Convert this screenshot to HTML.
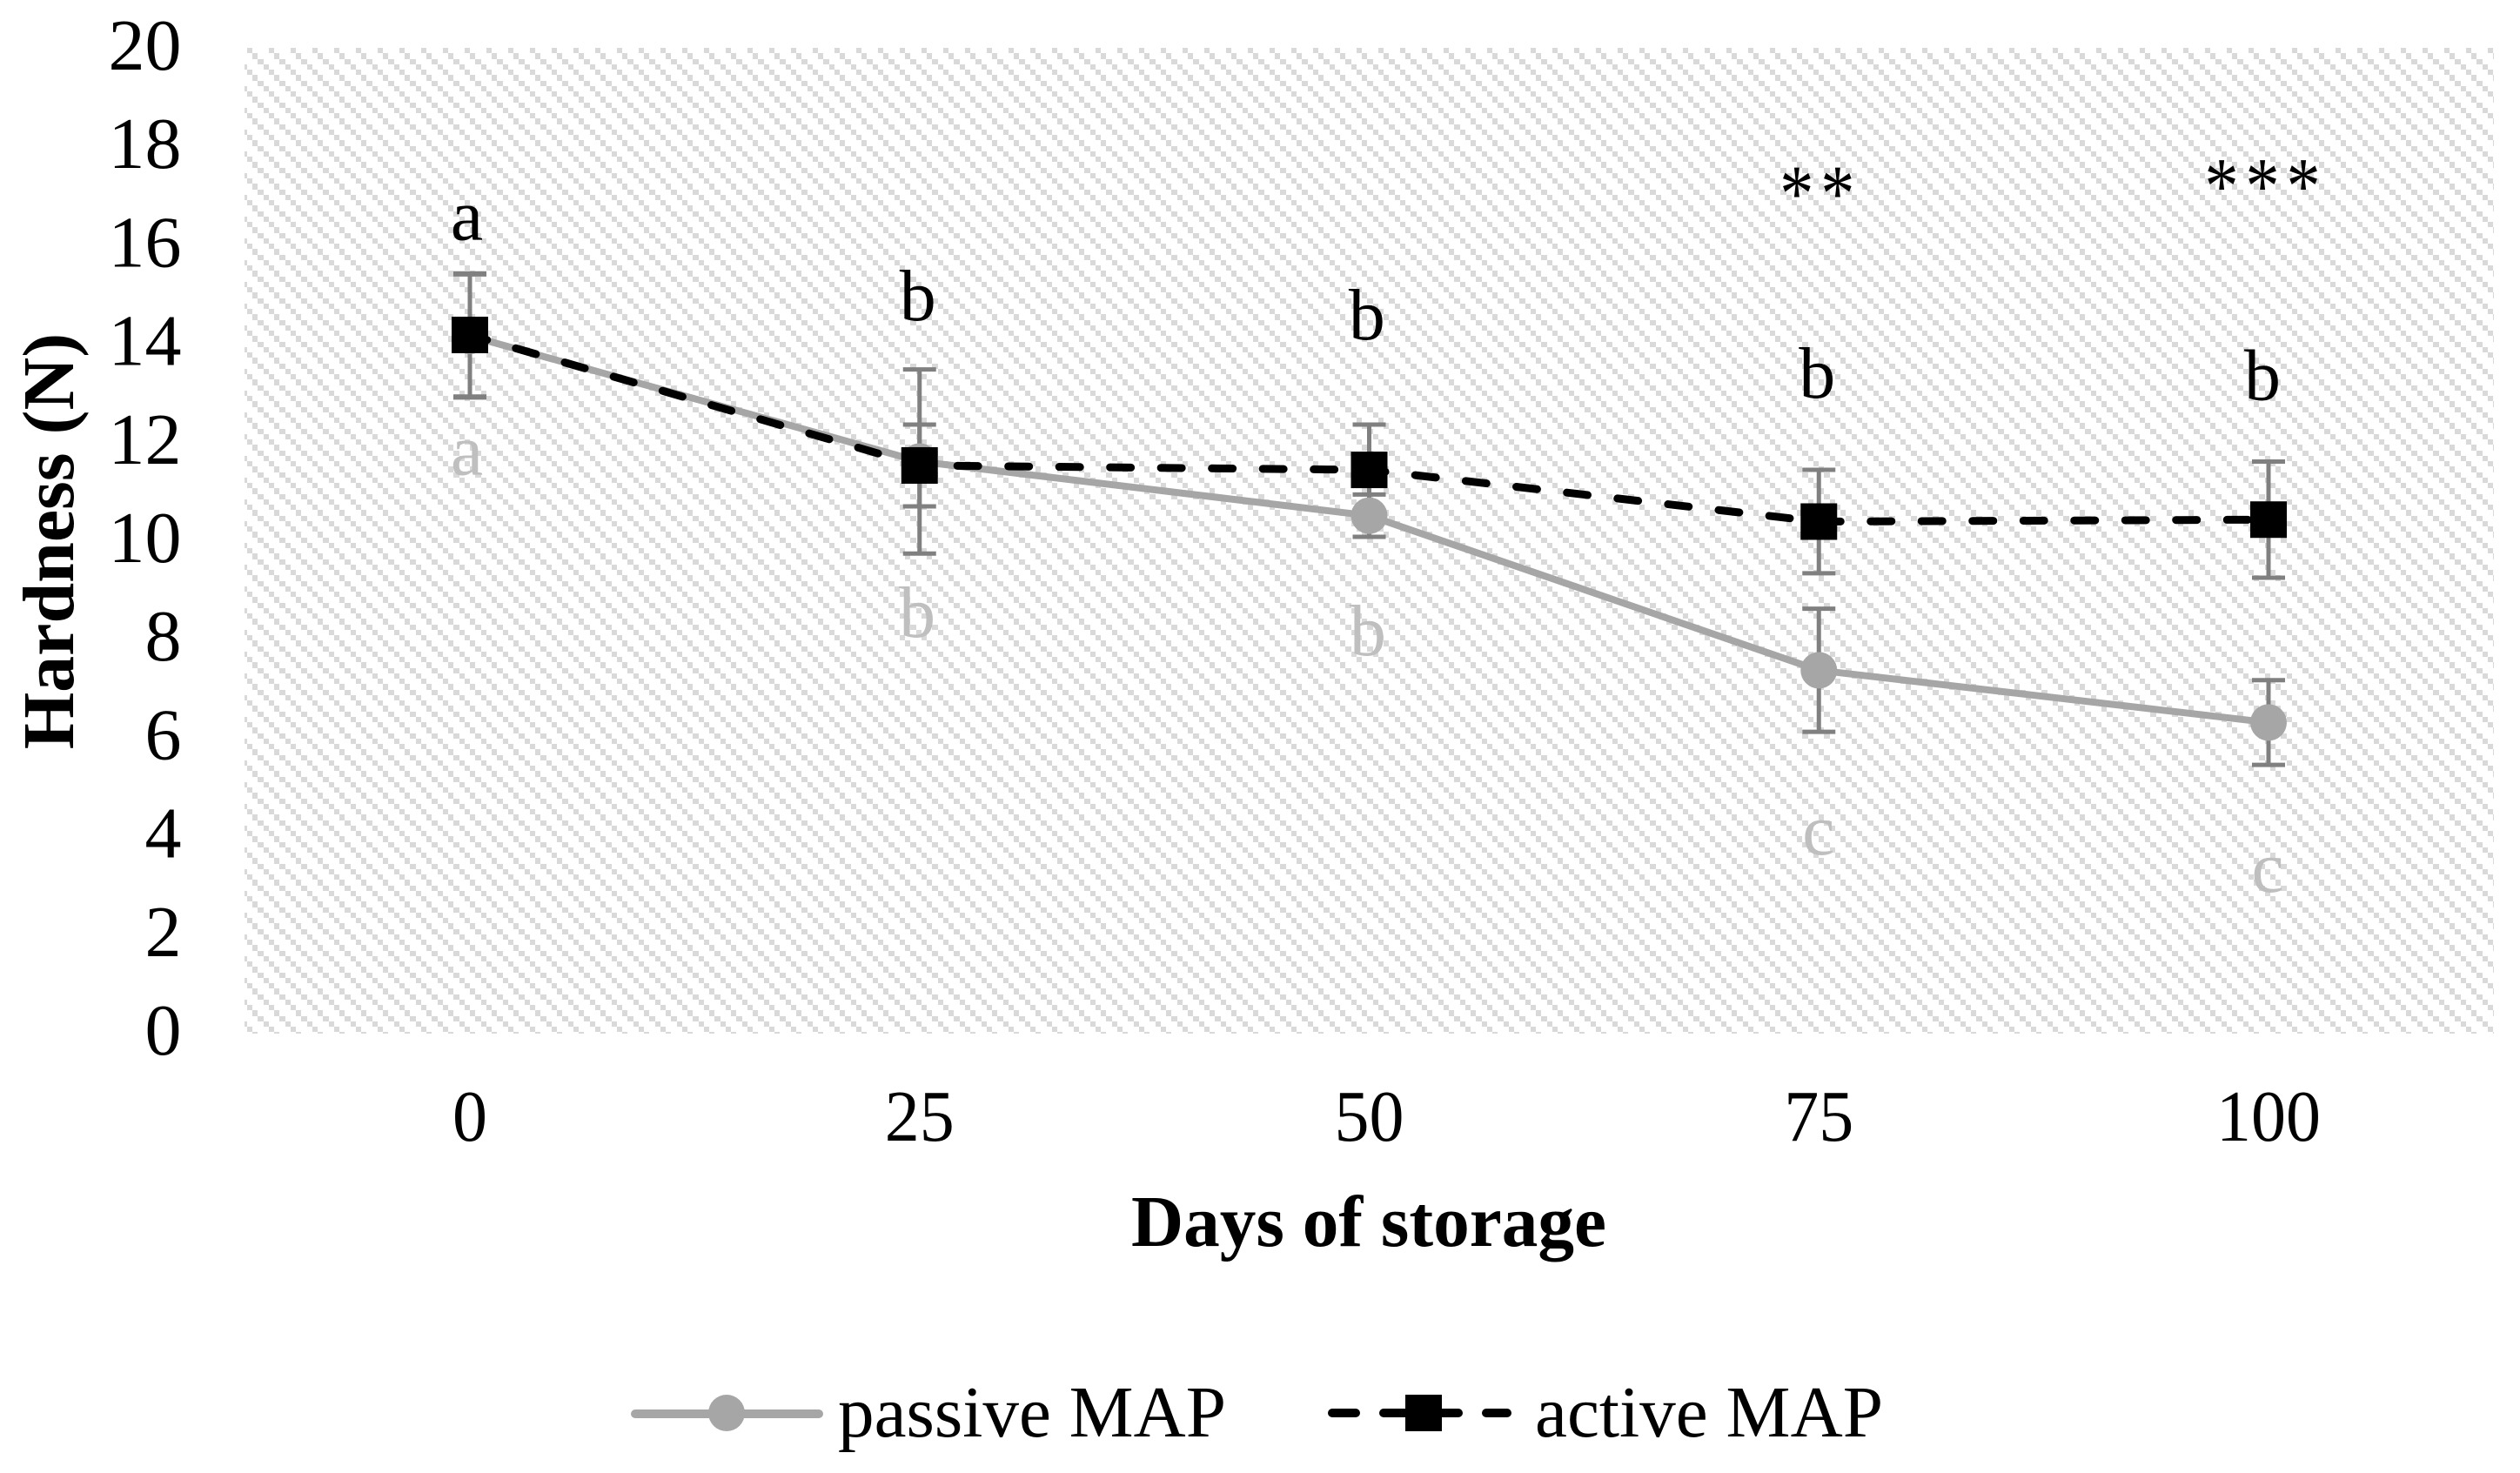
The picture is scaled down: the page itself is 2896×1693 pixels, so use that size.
<!DOCTYPE html>
<html lang="en">
<head>
<meta charset="utf-8">
<title>Hardness during storage</title>
<style>
  html, body { margin: 0; padding: 0; background: #fff; }
  svg { display: block; }
  text { font-family: "Liberation Serif", serif; fill: #000; }
</style>
</head>
<body>
<svg id="chart" xmlns="http://www.w3.org/2000/svg" width="2896" height="1693" viewBox="0 0 2896 1693">
  <defs>
    <pattern id="hatch" patternUnits="userSpaceOnUse" x="284" y="55" width="25" height="25">
      <rect x="0" y="0" width="6" height="6" fill="#d9d9d9" shape-rendering="crispEdges"/>
      <rect x="6" y="6" width="6" height="7" fill="#d9d9d9" shape-rendering="crispEdges"/>
      <rect x="12" y="13" width="7" height="6" fill="#d9d9d9" shape-rendering="crispEdges"/>
      <rect x="19" y="19" width="6" height="6" fill="#d9d9d9" shape-rendering="crispEdges"/>
    </pattern>
  </defs>
  <rect x="281" y="55" width="2585" height="1133" fill="url(#hatch)" shape-rendering="crispEdges"/>

  <g id="y-ticks"></g>
  <g id="x-ticks"></g>
  <g id="errors"></g>
  <g id="passive"></g>
  <g id="active"></g>
  <g id="letters"></g>

  <text transform="translate(84 622) rotate(-90)" text-anchor="middle" font-size="84" font-weight="bold">Hardness (N)</text>
  <text x="1573" y="1432" text-anchor="middle" font-size="84" font-weight="bold" textLength="546" lengthAdjust="spacingAndGlyphs">Days of storage</text>

  <g>
    <g>
      <line x1="730" y1="1625" x2="941" y2="1625" stroke="#a6a6a6" stroke-width="10" stroke-linecap="round"/>
      <circle cx="835" cy="1624" r="21" fill="#a6a6a6"/>
      <text x="963" y="1651" font-size="84" textLength="446" lengthAdjust="spacingAndGlyphs">passive MAP</text>
    </g>
    <g>
      <line x1="1531" y1="1624" x2="1732" y2="1624" stroke="#000" stroke-width="10" stroke-linecap="round" stroke-dasharray="27 32"/>
      <rect x="1615" y="1603" width="42" height="42" fill="#000"/>
      <text x="1764" y="1651" font-size="84" textLength="400" lengthAdjust="spacingAndGlyphs">active MAP</text>
    </g>
  </g>
</svg>
<script>
const categories = ['0', '25', '50', '75', '100'];
const yTickLabels = [0, 2, 4, 6, 8, 10, 12, 14, 16, 18, 20];
const passiveValues = [14.15, 11.6, 10.5, 7.36, 6.3];
const activeValues = [14.17, 11.52, 11.43, 10.38, 10.42];
const passiveErrors = [1.25, 1.87, 0.43, 1.25, 0.86];
const activeErrors = [1.25, 0.83, 0.92, 1.05, 1.18];
const activeLetters = ['a', 'b', 'b', 'b', 'b'];
const passiveLetters = ['a', 'b', 'b', 'c', 'c'];
const activeLetterLevels = [16.1, 14.47, 14.08, 12.9, 12.85];
const passiveLetterLevels = [11.33, 8.04, 7.67, 3.62, 2.86];
const starMarks = ['', '', '', '**', '***'];
const starLevels = [0, 0, 0, 16.5, 16.65];

const NS = 'http://www.w3.org/2000/svg';
function xScale(i) { return 540 + i * 516.75; }
function yScale(v) { return 1187 - v * (1132 / 20); }
function make(tag, parentId, attrs) {
  const el = document.createElementNS(NS, tag);
  for (const k in attrs) el.setAttribute(k, attrs[k]);
  document.getElementById(parentId).appendChild(el);
  return el;
}

yTickLabels.forEach(function (v) {
  const t = make('text', 'y-ticks', { x: 208.5, y: yScale(v) + 25, 'text-anchor': 'end', 'font-size': 84 });
  t.textContent = String(v);
  
  
});

categories.forEach(function (c, i) {
  const t = make('text', 'x-ticks', { x: xScale(i), y: 1311, 'text-anchor': 'middle', 'font-size': 84, textLength: c.length * 40, lengthAdjust: 'spacingAndGlyphs' });
  t.textContent = c;
  
  
});

function drawErrors(values, errors, key) {
  values.forEach(function (v, i) {
    const x = xScale(i);
    const top = yScale(v + errors[i]);
    const bottom = yScale(v - errors[i]);
    const e = make('path', 'errors', {
      d: 'M' + (x - 19) + ' ' + top + 'H' + (x + 19) + 'M' + x + ' ' + top + 'V' + bottom + 'M' + (x - 19) + ' ' + bottom + 'H' + (x + 19),
      stroke: '#808080', 'stroke-width': 5, fill: 'none'
    });
    
    
  });
}
drawErrors(passiveValues, passiveErrors, 'passive');
drawErrors(activeValues, activeErrors, 'active');

function linePath(values) {
  return values.map(function (v, i) { return (i ? 'L' : 'M') + xScale(i) + ' ' + yScale(v); }).join('');
}

const passiveLine = make('path', 'passive', { d: linePath(passiveValues), fill: 'none', stroke: '#a6a6a6', 'stroke-width': 8, 'stroke-linejoin': 'round' });



passiveValues.forEach(function (v, i) {
  const m = make('circle', 'passive', { cx: xScale(i), cy: yScale(v), r: 21, fill: '#a6a6a6' });
  
  
});

const activeLine = make('path', 'active', { d: linePath(activeValues), fill: 'none', stroke: '#000', 'stroke-width': 9, 'stroke-linecap': 'round', 'stroke-linejoin': 'round', 'stroke-dasharray': '24 34.5', 'stroke-dashoffset': 3.5 });



activeValues.forEach(function (v, i) {
  const m = make('rect', 'active', { x: xScale(i) - 21, y: yScale(v) - 21, width: 42, height: 42, fill: '#000' });
  
  
});

function drawLabels() {
  const activeNudge = [-3.5, -2, -2.6, -2, -7];
  const passiveNudge = [-3.5, -2.6, -1.6, -0.5, -1];
  activeLetters.forEach(function (s, i) {
    const t = make('text', 'letters', { x: xScale(i) + activeNudge[i], y: yScale(activeLetterLevels[i]), 'text-anchor': 'middle', 'font-size': 84 });
    t.textContent = s;
    
    
  });
  passiveLetters.forEach(function (s, i) {
    const t = make('text', 'letters', { x: xScale(i) + passiveNudge[i], y: yScale(passiveLetterLevels[i]), 'text-anchor': 'middle', 'font-size': 84 });
    t.style.fill = '#bfbfbf';
    t.textContent = s;
    
    
  });
  starMarks.forEach(function (s, i) {
    if (!s) return;
    const sx = xScale(i) + activeNudge[i] + 4;
    const t = make('text', 'letters', { transform: 'translate(' + sx + ' ' + yScale(starLevels[i]) + ') scale(0.85 1)', 'text-anchor': 'middle', 'font-size': 92, 'letter-spacing': 9.3 });
    t.textContent = s;
    
    
  });
}
drawLabels();
</script>
</body>
</html>
